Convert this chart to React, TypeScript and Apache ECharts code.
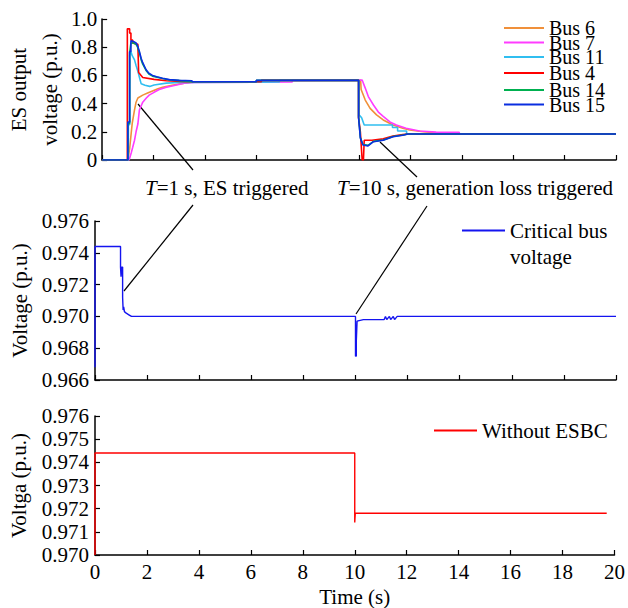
import React, { useEffect, useRef } from "react";
import * as echarts from "echarts";

const FONT = '"Liberation Serif", "Times New Roman", serif';

// Top panel: ES output voltage (p.u.) vs time (s), [t, v]
const BUS6: number[][] = [[0,0],[1.0,0],[1.07,0.08],[1.13,0.19],[1.17,0.26],[1.26,0.355],[1.32,0.41],[1.39,0.44],[1.58,0.46],[1.77,0.475],[1.96,0.49],[2.17,0.505],[2.35,0.515],[2.72,0.53],[3.2,0.545],[3.6,0.555],[6.2,0.555],[6.2,0.565],[10.06,0.565],[10.08,0.5],[10.24,0.425],[10.43,0.366],[10.68,0.32],[10.94,0.284],[11.32,0.248],[11.7,0.225],[11.97,0.213],[12.5,0.2],[13.2,0.19],[13.5,0.184],[20,0.184]];
const BUS7: number[][] = [[0,0],[1.05,0],[1.13,0.05],[1.19,0.09],[1.26,0.14],[1.32,0.2],[1.39,0.255],[1.45,0.355],[1.52,0.385],[1.58,0.41],[1.72,0.44],[1.83,0.46],[2.02,0.48],[2.22,0.5],[2.47,0.515],[2.72,0.525],[3.2,0.545],[3.6,0.55],[7.4,0.553],[7.4,0.565],[10.12,0.567],[10.24,0.51],[10.36,0.45],[10.56,0.39],[10.75,0.34],[10.94,0.31],[11.2,0.27],[11.45,0.248],[11.83,0.225],[12.35,0.206],[13.0,0.198],[13.9,0.196],[13.9,0.184],[20,0.184]];
const BUS11: number[][] = [[0,0],[1.02,0],[1.02,0.25],[1.07,0.25],[1.07,0.745],[1.12,0.77],[1.17,0.74],[1.26,0.71],[1.32,0.67],[1.39,0.63],[1.46,0.58],[1.52,0.54],[1.67,0.53],[1.85,0.522],[2.02,0.532],[2.5,0.545],[3.0,0.55],[6.9,0.553],[6.9,0.565],[10.0,0.565],[10.0,0.32],[10.1,0.3],[10.2,0.248],[11.3,0.248],[11.3,0.23],[11.5,0.23],[11.5,0.206],[11.85,0.206],[11.85,0.184],[20,0.184]];
const BUS4: number[][] = [[0,0],[0.98,0],[0.98,0.93],[1.07,0.93],[1.07,0.9],[1.12,0.9],[1.12,0.85],[1.19,0.85],[1.19,0.83],[1.39,0.82],[1.42,0.62],[1.58,0.585],[2.02,0.572],[2.5,0.562],[3.2,0.555],[6.2,0.555],[6.2,0.565],[9.98,0.565],[9.98,0.3],[10.05,0.2],[10.12,0.0],[10.17,0.0],[10.2,0.14],[10.5,0.14],[10.94,0.15],[11.32,0.17],[11.7,0.18],[11.9,0.184],[20,0.184]];
const BUS14: number[][] = [[0,0],[1.0,0],[1.0,0.26],[1.07,0.26],[1.07,0.76],[1.12,0.83],[1.22,0.83],[1.32,0.82],[1.38,0.8],[1.45,0.76],[1.52,0.71],[1.58,0.68],[1.71,0.635],[1.82,0.61],[1.96,0.595],[2.35,0.578],[2.62,0.568],[3.0,0.563],[3.5,0.555],[6.0,0.555],[6.0,0.565],[9.98,0.565],[9.98,0.31],[10.05,0.16],[10.15,0.11],[10.35,0.104],[10.56,0.132],[10.94,0.142],[11.32,0.167],[11.7,0.177],[11.9,0.184],[20,0.184]];
const BUS15: number[][] = [[0,0],[1.0,0],[1.0,0.27],[1.07,0.27],[1.07,0.77],[1.12,0.77],[1.12,0.845],[1.22,0.84],[1.32,0.83],[1.38,0.81],[1.45,0.77],[1.52,0.72],[1.58,0.69],[1.71,0.64],[1.82,0.615],[1.96,0.6],[2.12,0.59],[2.35,0.58],[2.62,0.57],[3.0,0.565],[3.5,0.562],[3.5,0.555],[6.0,0.555],[6.0,0.565],[9.98,0.565],[9.98,0.3],[10.05,0.155],[10.15,0.106],[10.35,0.1],[10.56,0.13],[10.94,0.14],[11.32,0.165],[11.7,0.175],[11.9,0.184],[20,0.184]];

// Middle panel: critical bus voltage
const CRITICAL: number[][] = [[0,0.9668],[0,0.9744],[0.98,0.9744],[0.98,0.9731],[1.0,0.9731],[1.0,0.9725],[1.02,0.9731],[1.06,0.9731],[1.06,0.9712],[1.08,0.9704],[1.1,0.9706],[1.13,0.9703],[1.2,0.9702],[1.3,0.9701],[1.4,0.97],[10.0,0.97],[10.0,0.9675],[10.03,0.9675],[10.03,0.9684],[10.06,0.9697],[10.3,0.9698],[11.1,0.9698],[11.15,0.97],[11.2,0.9698],[11.3,0.97],[11.35,0.9698],[11.45,0.97],[11.5,0.9698],[11.6,0.97],[20,0.97]];

// Bottom panel: without ESBC
const WITHOUT: number[][] = [[0,0.97],[0,0.9744],[10,0.9744],[10,0.9714],[10.02,0.9718],[19.7,0.9718]];

const TOP_NAMES = ["Bus 6", "Bus 7", "Bus 11", "Bus 4", "Bus 14", "Bus 15"];
const TOP_DATA = [BUS6, BUS7, BUS11, BUS4, BUS14, BUS15];
const TOP_COLORS = ["#F0903A", "#FF3CFF", "#30BEF0", "#FF0000", "#00B050", "#0a2ee0"];
const TOP_LEGEND_ROWS = [29, 43.5, 58, 74, 91, 105.5];

export default function App() {
  const ref = useRef<HTMLDivElement>(null);
  useEffect(() => {
    if (!ref.current) return;
    const chart = echarts.init(ref.current, null, { renderer: "svg" });
    const txt = { fontFamily: FONT, fontSize: 21, color: "#000" };
    const grids = [
      { left: 95, right: 12, top: 19, height: 141 },
      { left: 95, right: 12, top: 221, height: 159 },
      { left: 95, right: 12, top: 416, height: 141 },
    ];
    const xAxis = [0, 1, 2].map((i) => ({
      type: "value",
      gridIndex: i,
      min: 0,
      max: 20,
      interval: 2,
      axisLine: { onZero: false, lineStyle: { color: "#000", width: 1.5 } },
      axisTick: { inside: true, length: 5, lineStyle: { color: "#000", width: 1.2 } },
      axisLabel: { show: i === 2, ...txt, margin: 6 },
      splitLine: { show: false },
      name: i === 2 ? "Time (s)" : "",
      nameLocation: "middle",
      nameGap: 31,
      nameTextStyle: txt,
    }));
    const yCommon = {
      type: "value",
      axisLine: { show: true, onZero: false, lineStyle: { color: "#000", width: 1.5 } },
      axisTick: { show: true, inside: true, length: 5, lineStyle: { color: "#000", width: 1.2 } },
      splitLine: { show: false },
      nameLocation: "middle",
      nameRotate: 90,
    };
    const yAxis = [
      {
        ...yCommon,
        gridIndex: 0,
        min: 0,
        max: 1,
        interval: 0.2,
        axisLabel: { ...txt, margin: 5, formatter: (v: number) => (v === 0 ? "0" : v.toFixed(1)) },
        name: "{a|ES output}\n{a|voltage (p.u.)}",
        nameGap: 29,
        nameTextStyle: { ...txt, rich: { a: { ...txt, lineHeight: 31 } } },
      },
      {
        ...yCommon,
        gridIndex: 1,
        min: 0.966,
        max: 0.976,
        interval: 0.002,
        axisLabel: { ...txt, margin: 6, formatter: (v: number) => v.toFixed(3) },
        name: "Voltage (p.u.)",
        nameGap: 63,
        nameTextStyle: txt,
      },
      {
        ...yCommon,
        gridIndex: 2,
        min: 0.97,
        max: 0.976,
        interval: 0.001,
        axisLabel: { ...txt, margin: 6, formatter: (v: number) => v.toFixed(3) },
        name: "Voltga (p.u.)",
        nameGap: 66,
        nameTextStyle: txt,
      },
    ];
    const series: any[] = TOP_NAMES.map((n, i) => ({
      name: n,
      type: "line",
      xAxisIndex: 0,
      yAxisIndex: 0,
      data: TOP_DATA[i],
      symbol: "none",
      showSymbol: false,
      lineStyle: { width: 1.6, color: TOP_COLORS[i] },
      itemStyle: { color: TOP_COLORS[i] },
    }));
    series.push({
      name: "Critical bus voltage",
      type: "line",
      xAxisIndex: 1,
      yAxisIndex: 1,
      data: CRITICAL,
      symbol: "none",
      showSymbol: false,
      lineStyle: { width: 1.4, color: "#1414F0" },
      itemStyle: { color: "#1414F0" },
    });
    series.push({
      name: "Without ESBC",
      type: "line",
      xAxisIndex: 2,
      yAxisIndex: 2,
      data: WITHOUT,
      symbol: "none",
      showSymbol: false,
      lineStyle: { width: 1.4, color: "#FF0000" },
      itemStyle: { color: "#FF0000" },
    });
    const legendCommon = {
      orient: "vertical",
      icon: "rect",
      itemHeight: 2,
      padding: 0,
      selectedMode: false,
    };
    const topLegends = TOP_NAMES.map((n, i) => ({
      ...legendCommon,
      data: [n],
      left: 504,
      top: TOP_LEGEND_ROWS[i] - 11,
      itemWidth: 40,
      textStyle: { ...txt, fontSize: 20 },
    }));
    chart.setOption({
      animation: false,
      backgroundColor: "#fff",
      textStyle: { fontFamily: FONT },
      grid: grids,
      xAxis,
      yAxis,
      series,
      legend: [
        ...topLegends,
        {
          ...legendCommon,
          data: ["Critical bus voltage"],
          left: 462,
          top: 220,
          itemWidth: 43,
          formatter: () => "Critical bus",
          textStyle: txt,
        },
        {
          ...legendCommon,
          data: ["Without ESBC"],
          left: 434,
          top: 420,
          itemWidth: 43,
          textStyle: txt,
        },
      ],
      graphic: [
        { type: "line", shape: { x1: 138, y1: 104, x2: 193, y2: 170 }, style: { stroke: "#000", lineWidth: 1.2 }, silent: true },
        { type: "line", shape: { x1: 193, y1: 205, x2: 124, y2: 291 }, style: { stroke: "#000", lineWidth: 1.2 }, silent: true },
        { type: "line", shape: { x1: 380, y1: 142, x2: 417, y2: 177 }, style: { stroke: "#000", lineWidth: 1.2 }, silent: true },
        { type: "line", shape: { x1: 427, y1: 206, x2: 356, y2: 314 }, style: { stroke: "#000", lineWidth: 1.2 }, silent: true },
        {
          type: "text",
          x: 510,
          y: 256.5,
          silent: true,
          style: { text: "voltage", fontFamily: FONT, fontSize: 21, fill: "#000", verticalAlign: "middle" },
        },
        {
          type: "text",
          x: 145,
          y: 188,
          silent: true,
          style: {
            text: "{i|T}=1 s, ES triggered",
            fontFamily: FONT,
            fontSize: 21,
            fill: "#000",
            verticalAlign: "middle",
            rich: { i: { fontStyle: "italic", fontFamily: FONT, fontSize: 21 } },
          },
        },
        {
          type: "text",
          x: 337,
          y: 188,
          silent: true,
          style: {
            text: "{i|T}=10 s, generation loss triggered",
            fontFamily: FONT,
            fontSize: 21,
            fill: "#000",
            verticalAlign: "middle",
            rich: { i: { fontStyle: "italic", fontFamily: FONT, fontSize: 21 } },
          },
        },
      ],
    });
    return () => chart.dispose();
  }, []);
  return (
    <div
      ref={ref}
      style={{ position: "absolute", left: 0, top: 0, width: 628, height: 608, background: "#fff" }}
    />
  );
}
